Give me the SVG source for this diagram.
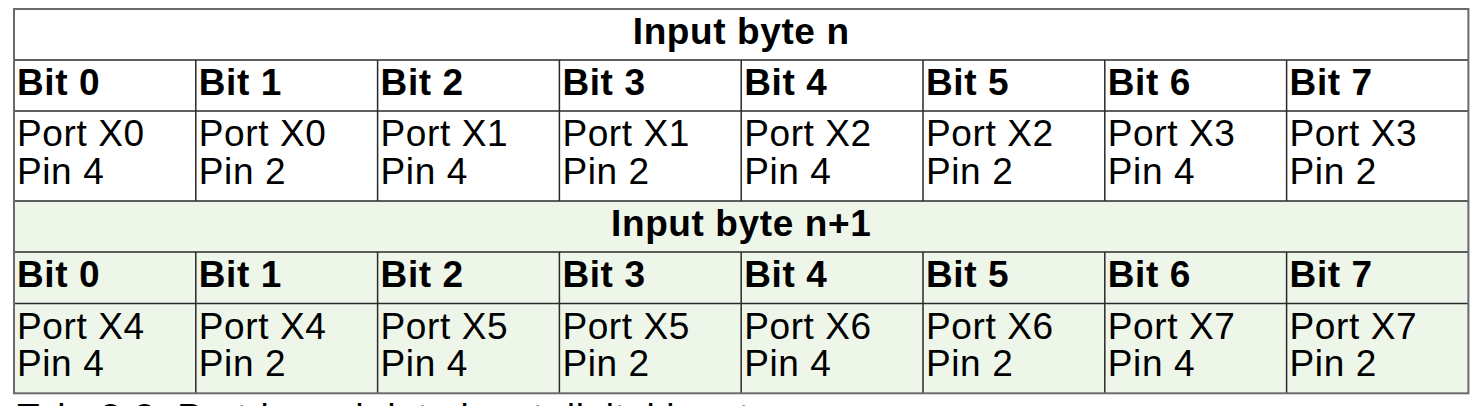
<svg xmlns="http://www.w3.org/2000/svg" width="1482" height="406" viewBox="0 0 1482 406">
<style>
text{font-family:"Liberation Sans",Arial,sans-serif;font-size:37px;letter-spacing:0.6px;fill:#000}
.b{font-weight:bold}
.h{font-weight:bold;text-anchor:middle}
.in{stroke:#2a2a2a;stroke-width:1.5;fill:none}
.out{stroke:#6a6a6a;stroke-width:2;fill:none}
</style>
<rect x="0" y="0" width="1482" height="406" fill="#fff"/>
<rect x="14" y="201" width="1454.4" height="192.5" fill="#eef6ea"/>
<g id="table1">
<text class="h" x="741.2" y="43.5">Input byte n</text>
<g id="t1c0"><text class="b" x="17" y="94.5">Bit 0</text><text x="17" y="146">Port X0</text><text x="17" y="183.5">Pin 4</text></g>
<g id="t1c1"><text class="b" x="198.8" y="94.5">Bit 1</text><text x="198.8" y="146">Port X0</text><text x="198.8" y="183.5">Pin 2</text></g>
<g id="t1c2"><text class="b" x="380.6" y="94.5">Bit 2</text><text x="380.6" y="146">Port X1</text><text x="380.6" y="183.5">Pin 4</text></g>
<g id="t1c3"><text class="b" x="562.4" y="94.5">Bit 3</text><text x="562.4" y="146">Port X1</text><text x="562.4" y="183.5">Pin 2</text></g>
<g id="t1c4"><text class="b" x="744.2" y="94.5">Bit 4</text><text x="744.2" y="146">Port X2</text><text x="744.2" y="183.5">Pin 4</text></g>
<g id="t1c5"><text class="b" x="926" y="94.5">Bit 5</text><text x="926" y="146">Port X2</text><text x="926" y="183.5">Pin 2</text></g>
<g id="t1c6"><text class="b" x="1107.8" y="94.5">Bit 6</text><text x="1107.8" y="146">Port X3</text><text x="1107.8" y="183.5">Pin 4</text></g>
<g id="t1c7"><text class="b" x="1289.6" y="94.5">Bit 7</text><text x="1289.6" y="146">Port X3</text><text x="1289.6" y="183.5">Pin 2</text></g>
</g>
<g id="table2">
<text class="h" x="741.2" y="235.5">Input byte n+1</text>
<g id="t2c0"><text class="b" x="17" y="287">Bit 0</text><text x="17" y="338.5">Port X4</text><text x="17" y="376">Pin 4</text></g>
<g id="t2c1"><text class="b" x="198.8" y="287">Bit 1</text><text x="198.8" y="338.5">Port X4</text><text x="198.8" y="376">Pin 2</text></g>
<g id="t2c2"><text class="b" x="380.6" y="287">Bit 2</text><text x="380.6" y="338.5">Port X5</text><text x="380.6" y="376">Pin 4</text></g>
<g id="t2c3"><text class="b" x="562.4" y="287">Bit 3</text><text x="562.4" y="338.5">Port X5</text><text x="562.4" y="376">Pin 2</text></g>
<g id="t2c4"><text class="b" x="744.2" y="287">Bit 4</text><text x="744.2" y="338.5">Port X6</text><text x="744.2" y="376">Pin 4</text></g>
<g id="t2c5"><text class="b" x="926" y="287">Bit 5</text><text x="926" y="338.5">Port X6</text><text x="926" y="376">Pin 2</text></g>
<g id="t2c6"><text class="b" x="1107.8" y="287">Bit 6</text><text x="1107.8" y="338.5">Port X7</text><text x="1107.8" y="376">Pin 4</text></g>
<g id="t2c7"><text class="b" x="1289.6" y="287">Bit 7</text><text x="1289.6" y="338.5">Port X7</text><text x="1289.6" y="376">Pin 2</text></g>
</g>
<g id="grid">
<path class="in" d="M14 60H1468.4M14 111H1468.4M14 201H1468.4M14 252H1468.4M14 303.5H1468.4"/>
<path class="in" d="M195.8 60V201M377.6 60V201M559.4 60V201M741.2 60V201M923 60V201M1104.8 60V201M1286.6 60V201"/>
<path class="in" d="M195.8 252V393.3M377.6 252V393.3M559.4 252V393.3M741.2 252V393.3M923 252V393.3M1104.8 252V393.3M1286.6 252V393.3"/>
<rect class="out" x="14" y="9" width="1454.4" height="384.3"/>
</g>
<text x="17" y="429.5">Tab. 3-3: Port-based data input digital inputs</text>
</svg>
